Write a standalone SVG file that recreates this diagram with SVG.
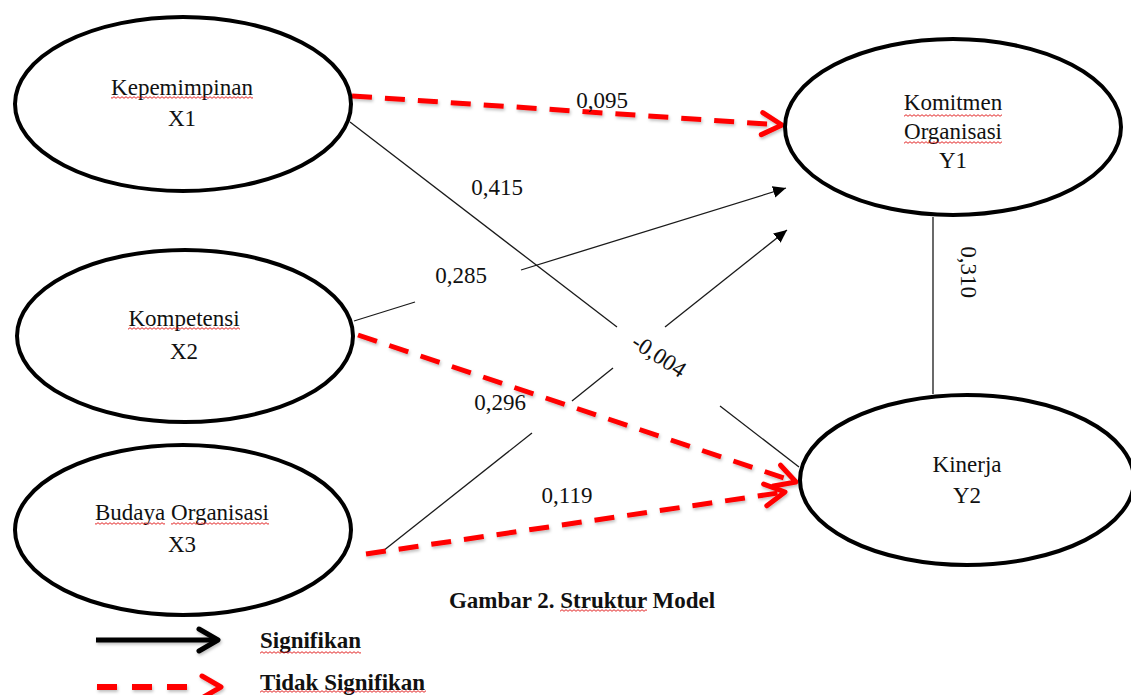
<svg xmlns="http://www.w3.org/2000/svg" width="1131" height="695" viewBox="0 0 1131 695">
<style>
  .node { fill: #ffffff; stroke: #000000; stroke-width: 4; }
  .t { font-family: "Liberation Serif", "Times New Roman", serif; font-size: 23px; fill: #111; text-anchor: middle; }
  .b { font-family: "Liberation Serif", "Times New Roman", serif; font-size: 23px; font-weight: bold; fill: #111; }
  .sig { stroke: #1a1a1a; stroke-width: 1.3; fill: none; }
  .ns { stroke: #ff0000; stroke-width: 5; fill: none; stroke-dasharray: 20 13; filter: url(#sh); }
  .wave { fill: url(#wave); }
</style>
<defs>
  <pattern id="wave" patternUnits="userSpaceOnUse" width="4" height="3">
    <path d="M0,2.3 L2,0.7 L4,2.3" fill="none" stroke="#e01010" stroke-width="0.9"/>
  </pattern>
  <filter id="sh" filterUnits="userSpaceOnUse" x="0" y="0" width="1131" height="695">
    <feDropShadow dx="1" dy="2" stdDeviation="1.5" flood-color="#000" flood-opacity="0.25"/>
  </filter>
  <marker id="tri" markerUnits="userSpaceOnUse" markerWidth="16" markerHeight="14" refX="13" refY="6" orient="auto">
    <path d="M0,0 L13,6 L0,12 Z" fill="#000"/>
  </marker>
  <marker id="chevR" markerUnits="userSpaceOnUse" markerWidth="30" markerHeight="30" refX="25" refY="14" orient="auto" overflow="visible">
    <path d="M5,3 L25,14 L5,25" fill="none" stroke="#ff0000" stroke-width="5" stroke-linecap="round" stroke-linejoin="round" stroke-dasharray="none"/>
  </marker>
</defs>
<rect width="1131" height="695" fill="#ffffff"/>

<g id="connectors">
  <!-- significant (black) -->
  <line class="sig" x1="350" y1="122" x2="617" y2="327"/>
  <line class="sig" x1="720" y1="406" x2="799" y2="467"/>
  <line class="sig" x1="354" y1="321" x2="415" y2="302"/>
  <line class="sig" x1="521" y1="270" x2="786" y2="188" marker-end="url(#tri)"/>
  <line class="sig" x1="383" y1="551" x2="532" y2="433"/>
  <line class="sig" x1="572" y1="401" x2="613" y2="368"/>
  <line class="sig" x1="665" y1="327" x2="787" y2="230" marker-end="url(#tri)"/>
  <line class="sig" x1="933" y1="217" x2="933" y2="394" stroke-width="1.5"/>
  <!-- not significant (red dashed) -->
  <line class="ns" x1="352" y1="96" x2="782" y2="125" marker-end="url(#chevR)"/>
  <line class="ns" x1="358" y1="335" x2="796" y2="482" marker-end="url(#chevR)"/>
  <line class="ns" x1="366" y1="554" x2="785" y2="492" marker-end="url(#chevR)"/>
  <!-- labels -->
  <text class="t" x="602" y="108">0,095</text>
  <text class="t" x="497" y="195">0,415</text>
  <text class="t" x="461" y="283">0,285</text>
  <text class="t" x="500" y="410">0,296</text>
  <text class="t" x="567" y="503">0,119</text>
  <text class="t" x="655" y="362" transform="rotate(33 655 362)">-0,004</text>
  <text class="t" x="961" y="272" transform="rotate(90 961 272)">0,310</text>
</g>

<g id="node-x1">
  <ellipse class="node" cx="183" cy="104" rx="168" ry="87"/>
  <text class="t" x="182" y="95">Kepemimpinan</text>
  <text class="t" x="182" y="126">X1</text>
  <rect class="wave" x="111" y="96" width="142" height="3"/>
</g>
<g id="node-x2">
  <ellipse class="node" cx="185" cy="336" rx="168" ry="86"/>
  <text class="t" x="184" y="326">Kompetensi</text>
  <text class="t" x="184" y="359">X2</text>
  <rect class="wave" x="128" y="327" width="112" height="3"/>
</g>
<g id="node-x3">
  <ellipse class="node" cx="183" cy="530" rx="168" ry="85"/>
  <text class="t" x="182" y="520">Budaya Organisasi</text>
  <text class="t" x="182" y="552">X3</text>
  <rect class="wave" x="95" y="522" width="70" height="3"/>
  <rect class="wave" x="171" y="522" width="98" height="3"/>
</g>
<g id="node-y1">
  <ellipse class="node" cx="953" cy="127" rx="168" ry="88"/>
  <text class="t" x="953" y="110">Komitmen</text>
  <text class="t" x="953" y="139">Organisasi</text>
  <text class="t" x="953" y="168">Y1</text>
  <rect class="wave" x="904" y="114" width="98" height="3"/>
  <rect class="wave" x="904" y="141" width="98" height="3"/>
</g>
<g id="node-y2">
  <ellipse class="node" cx="967" cy="480" rx="167" ry="85"/>
  <text class="t" x="967" y="472">Kinerja</text>
  <text class="t" x="967" y="503">Y2</text>
</g>

<g id="caption">
  <text class="b" x="582" y="608" text-anchor="middle">Gambar 2. Struktur Model</text>
  <rect class="wave" x="560" y="609" width="87" height="3"/>
</g>

<g id="legend" filter="url(#sh)">
  <line x1="96" y1="640" x2="215" y2="640" stroke="#000" stroke-width="5"/>
  <path d="M199,629 L218,640 L199,651" fill="none" stroke="#000" stroke-width="5" stroke-linecap="round" stroke-linejoin="round"/>
  <line x1="97" y1="687" x2="187" y2="687" stroke="#ff0000" stroke-width="6" stroke-dasharray="20 15"/>
  <path d="M202,676 L221,687 L202,698" fill="none" stroke="#ff0000" stroke-width="5" stroke-linecap="round" stroke-linejoin="round"/>
</g>
<g id="legend-text">
  <text class="b" x="260" y="648">Signifikan</text>
  <rect class="wave" x="260" y="651" width="101" height="3"/>
  <text class="b" x="260" y="690">Tidak Signifikan</text>
  <rect class="wave" x="260" y="690" width="166" height="3"/>
</g>
</svg>
